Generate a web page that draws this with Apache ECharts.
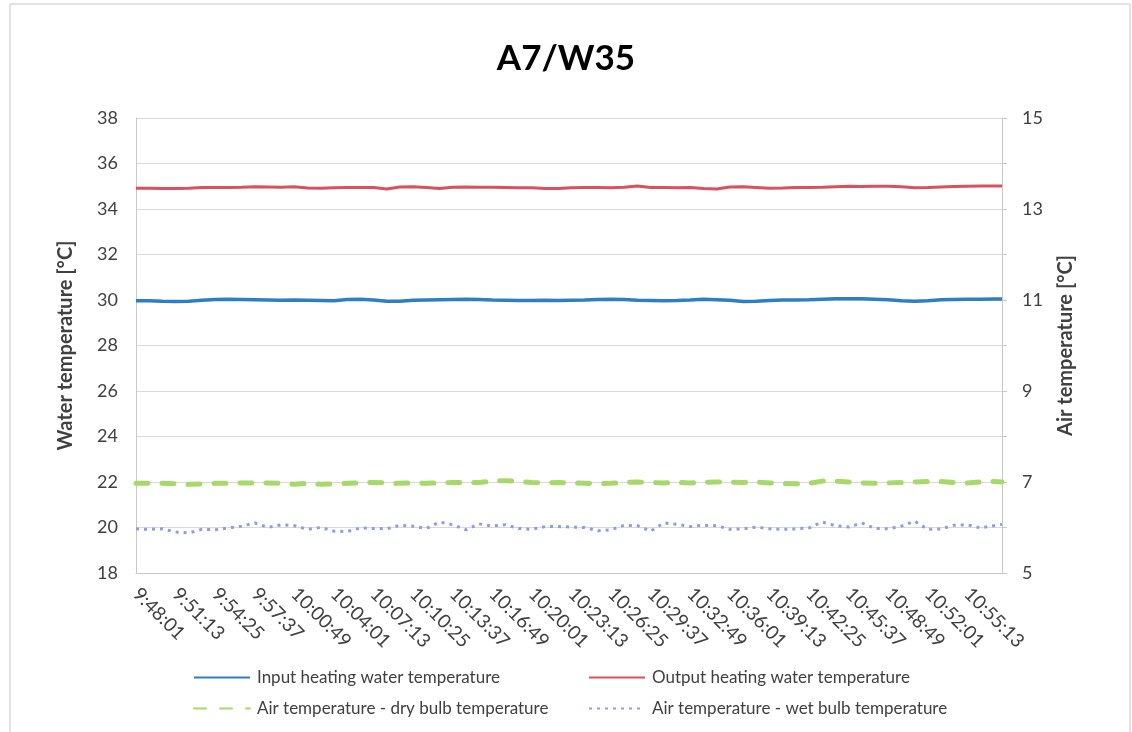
<!DOCTYPE html>
<html>
<head>
<meta charset="utf-8">
<script src="https://cdn.jsdelivr.net/npm/echarts@6/dist/echarts.min.js"></script>
<style>
  html, body { margin: 0; padding: 0; background: #fff; }
  #chart { width: 1132px; height: 732px; }
</style>
</head>
<body>
<div id="chart"></div>
<script>
// sample times (every 64 s, last one at the end of the run)
const times = [
  '9:48:01', '9:49:05', '9:50:09', '9:51:13', '9:52:17', '9:53:21', '9:54:25', '9:55:29', '9:56:33', '9:57:37',
  '9:58:41', '9:59:45', '10:00:49', '10:01:53', '10:02:57', '10:04:01', '10:05:05', '10:06:09', '10:07:13', '10:08:17',
  '10:09:21', '10:10:25', '10:11:29', '10:12:33', '10:13:37', '10:14:41', '10:15:45', '10:16:49', '10:17:53', '10:18:57',
  '10:20:01', '10:21:05', '10:22:09', '10:23:13', '10:24:17', '10:25:21', '10:26:25', '10:27:29', '10:28:33', '10:29:37',
  '10:30:41', '10:31:45', '10:32:49', '10:33:53', '10:34:57', '10:36:01', '10:37:05', '10:38:09', '10:39:13', '10:40:17',
  '10:41:21', '10:42:25', '10:43:29', '10:44:33', '10:45:37', '10:46:41', '10:47:45', '10:48:49', '10:49:53', '10:50:57',
  '10:52:01', '10:53:05', '10:54:09', '10:55:13', '10:56:17', '10:57:21', '10:58:01'
]

// x axis tick labels
const tickLabels = [
  '9:48:01', '9:51:13', '9:54:25', '9:57:37', '10:00:49', '10:04:01', '10:07:13', '10:10:25',
  '10:13:37', '10:16:49', '10:20:01', '10:23:13', '10:26:25', '10:29:37', '10:32:49', '10:36:01',
  '10:39:13', '10:42:25', '10:45:37', '10:48:49', '10:52:01', '10:55:13'
]

// water temperatures, left axis [°C]
const inputWater = [
  29.97, 29.97, 29.94, 29.93, 29.94, 29.99, 30.02, 30.03, 30.02, 30.01,
  30.00, 29.99, 30.00, 29.99, 29.98, 29.97, 30.02, 30.03, 30.00, 29.94,
  29.95, 29.99, 30.00, 30.01, 30.02, 30.03, 30.02, 30.00, 29.99, 29.98,
  29.98, 29.99, 29.98, 29.99, 30.00, 30.02, 30.03, 30.02, 29.99, 29.98,
  29.97, 29.98, 30.00, 30.03, 30.01, 29.99, 29.93, 29.95, 29.98, 30.00,
  30.00, 30.01, 30.03, 30.05, 30.06, 30.05, 30.03, 30.01, 29.97, 29.94,
  29.97, 30.01, 30.02, 30.03, 30.03, 30.04, 30.04
]
const outputWater = [
  34.91, 34.91, 34.90, 34.90, 34.91, 34.94, 34.95, 34.95, 34.96, 34.98,
  34.97, 34.96, 34.98, 34.92, 34.91, 34.93, 34.95, 34.94, 34.95, 34.88,
  34.97, 34.98, 34.95, 34.90, 34.96, 34.97, 34.96, 34.96, 34.95, 34.93,
  34.93, 34.90, 34.90, 34.93, 34.94, 34.94, 34.93, 34.96, 35.01, 34.95,
  34.94, 34.93, 34.95, 34.90, 34.88, 34.97, 34.98, 34.95, 34.91, 34.92,
  34.95, 34.95, 34.96, 34.98, 35.00, 34.99, 35.00, 35.00, 34.98, 34.93,
  34.94, 34.97, 34.99, 35.00, 35.01, 35.01, 35.01
]

// air temperatures, right axis [°C]
const dryBulb = [
  6.97, 6.97, 6.97, 6.96, 6.95, 6.96, 6.97, 6.97, 6.98, 6.98,
  6.98, 6.97, 6.95, 6.97, 6.95, 6.96, 6.97, 6.98, 6.99, 6.98,
  6.97, 6.98, 6.97, 6.98, 6.99, 6.99, 6.99, 7.02, 7.03, 7.01,
  6.99, 6.98, 6.99, 6.98, 6.97, 6.96, 6.97, 6.99, 7.00, 6.99,
  6.98, 6.99, 6.98, 6.99, 7.00, 7.00, 6.99, 7.00, 6.98, 6.97,
  6.96, 6.97, 7.02, 7.02, 7.00, 6.98, 6.97, 6.98, 6.99, 7.00,
  7.01, 7.01, 6.99, 6.98, 7.00, 7.01, 7.00
]
const wetBulb = [
  5.97, 5.96, 5.97, 5.90, 5.88, 5.96, 5.95, 5.99, 6.03, 6.10,
  6.00, 6.06, 6.04, 5.96, 6.00, 5.92, 5.91, 5.99, 5.98, 5.97,
  6.05, 6.03, 5.98, 6.12, 6.06, 5.95, 6.08, 6.03, 6.06, 5.98,
  5.96, 6.02, 6.02, 6.01, 6.00, 5.93, 5.95, 6.05, 6.04, 5.92,
  6.10, 6.07, 6.02, 6.05, 6.04, 5.96, 5.97, 6.01, 5.97, 5.96,
  5.97, 5.99, 6.12, 6.04, 6.01, 6.10, 5.98, 5.97, 6.03, 6.14,
  5.96, 5.97, 6.05, 6.06, 5.99, 6.04, 6.07
]

const font = 'Lato'
const textColor = '#404040'

function toSeconds(t) {
  const p = t.split(':').map(Number)
  return p[0] * 3600 + p[1] * 60 + p[2]
}
const t0 = toSeconds(times[0])
const xs = times.map(t => toSeconds(t) - t0)
const pairs = vals => vals.map((v, i) => [xs[i], v])

const chart = echarts.init(document.getElementById('chart'))

function legendItem(name, left, top) {
  return {
    data: [name],
    left: left,
    top: top,
    itemWidth: 56,
    itemHeight: 12,
    itemStyle: { opacity: 0 },
    textStyle: { fontFamily: font, fontSize: 17, color: textColor, padding: [0, 0, 0, 2] },
    selectedMode: false
  }
}

chart.setOption({
  animation: false,
  backgroundColor: '#fff',
  title: {
    text: 'A7/W35',
    left: 'center',
    top: 36,
    textStyle: { fontFamily: font, fontSize: 35, fontWeight: 'bold', color: '#000' }
  },
  graphic: [{
    type: 'rect',
    shape: { x: 10, y: 4, width: 1120, height: 740 },
    style: { fill: 'none', stroke: '#c8c8c8', lineWidth: 1 },
    silent: true
  }],
  grid: { left: 136, right: 130, top: 118, bottom: 159 },
  legend: [
    legendItem('Input heating water temperature', 188, 664),
    legendItem('Output heating water temperature', 583, 664),
    legendItem('Air temperature - dry bulb temperature', 188, 695),
    legendItem('Air temperature - wet bulb temperature', 583, 695)
  ],
  xAxis: {
    type: 'value',
    min: 0,
    max: 4200,
    interval: 192,
    axisLine: { show: true, lineStyle: { color: '#c8c8c8', width: 1 } },
    axisTick: { show: false },
    splitLine: { show: false },
    axisLabel: {
      rotate: -45,
      margin: 18,
      showMaxLabel: false,
      fontFamily: font,
      fontSize: 19,
      color: textColor,
      formatter: v => tickLabels[Math.round(v / 192)] || ''
    }
  },
  yAxis: [{
    type: 'value',
    min: 18,
    max: 38,
    interval: 2,
    name: 'Water temperature [°C]',
    nameLocation: 'middle',
    nameGap: 60,
    nameTextStyle: { fontFamily: font, fontSize: 20, fontWeight: 'bold', color: textColor },
    axisLine: { show: true, lineStyle: { color: '#c8c8c8', width: 1 } },
    axisTick: { show: false },
    splitLine: { lineStyle: { color: '#d9d9d9', width: 1 } },
    axisLabel: { margin: 18, fontFamily: font, fontSize: 18, color: textColor }
  }, {
    type: 'value',
    min: 5,
    max: 15,
    interval: 1,
    position: 'right',
    name: 'Air temperature [°C]',
    nameLocation: 'middle',
    nameGap: 54,
    nameTextStyle: { fontFamily: font, fontSize: 20, fontWeight: 'bold', color: textColor },
    axisLine: { show: true, lineStyle: { color: '#c8c8c8', width: 1 } },
    axisTick: { show: true, length: 5, lineStyle: { color: '#c8c8c8' } },
    splitLine: { show: false },
    axisLabel: {
      margin: 20,
      fontFamily: font,
      fontSize: 18,
      color: textColor,
      formatter: v => (v % 2 === 1 ? String(v) : '')
    }
  }],
  series: [{
    name: 'Input heating water temperature',
    type: 'line',
    yAxisIndex: 0,
    symbol: 'none',
    data: pairs(inputWater),
    itemStyle: { color: '#2e7ec6' },
    lineStyle: { color: '#2e7ec6', width: 3.5 }
  }, {
    name: 'Output heating water temperature',
    type: 'line',
    yAxisIndex: 0,
    symbol: 'none',
    data: pairs(outputWater),
    itemStyle: { color: '#d9505f' },
    lineStyle: { color: '#d9505f', width: 3 }
  }, {
    name: 'Air temperature - dry bulb temperature',
    type: 'line',
    yAxisIndex: 1,
    symbol: 'none',
    data: pairs(dryBulb),
    itemStyle: { color: '#a6d86a' },
    lineStyle: { color: '#a6d86a', width: 5, type: [12, 14], cap: 'round' }
  }, {
    name: 'Air temperature - wet bulb temperature',
    type: 'line',
    yAxisIndex: 1,
    symbol: 'none',
    data: pairs(wetBulb),
    itemStyle: { color: '#8c9de3' },
    lineStyle: { color: '#8c9de3', width: 3, type: [3, 5] }
  }]
})
</script>
</body>
</html>
